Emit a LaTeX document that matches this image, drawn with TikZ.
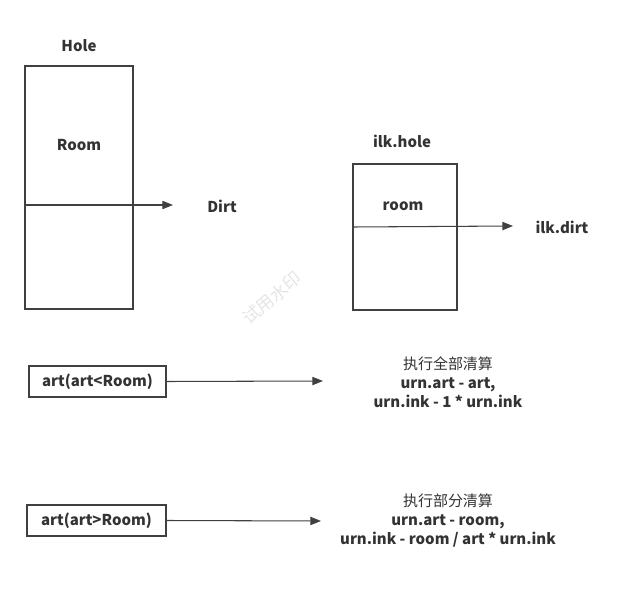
\documentclass[tikz,border=0pt]{standalone}
\usepackage{fontspec}
\setmainfont{Noto Sans CJK SC}
\usetikzlibrary{arrows.meta, positioning}

\begin{document}
\begin{tikzpicture}[
    x=0.03cm, y=-0.03cm,
    frame/.style={draw=black!75, line width=1.2pt},
    lbl/.style={font=\bfseries\fontsize{12.8}{16.2}\selectfont, text=black!80},
    arrow/.style={-{Triangle[length=9pt, width=7pt]}, line width=0.9pt, draw=black!75},
]
    \useasboundingbox (0,0) rectangle (637,592);

    % left hole
    \node[frame, minimum width=3.24cm, minimum height=7.29cm] (hole) at (79,187.5) {};
    \node[lbl] (holeTitle) at (79,46) {Hole};
    \node[lbl] (room) at (79,145) {Room};
    \coordinate (holeCut) at (25,205);
    \coordinate (dirtTip) at (173,205);
    \node[lbl] (dirt) at (222,206) {Dirt};
    \draw[arrow] (holeCut) -- (dirtTip);

    % right hole
    \node[frame, minimum width=3.12cm, minimum height=4.38cm] (ilkHole) at (405,237) {};
    \node[lbl] (ilkTitle) at (402,141) {ilk.hole};
    \node[lbl] (ilkRoom) at (403,206) {room};
    \coordinate (ilkCut) at (353,227);
    \coordinate (ilkTip) at (513,226);
    \node[lbl] (ilkDirt) at (562,227) {ilk.dirt};
    \draw[arrow] (ilkCut) -- (ilkTip);

    % art < room
    \node[frame, lbl, minimum width=4.11cm, minimum height=0.93cm] (less) at (97.5,381.5) {art(art<Room)};
    \coordinate (lessTip) at (323,381);
    \draw[arrow] (less.east) -- (lessTip);
    \node[lbl, align=center] (full) at (448,382.5) {%
        {\mdseries 执行全部清算}\\
        urn.art - art,\\
        urn.ink - 1 * urn.ink};

    % art > room
    \node[frame, lbl, minimum width=4.17cm, minimum height=0.93cm] (more) at (96.5,520.5) {art(art>Room)};
    \coordinate (moreTip) at (321,521);
    \draw[arrow] (more.east) -- (moreTip);
    \node[lbl, align=center] (part) at (448,521) {%
        {\mdseries 执行部分清算}\\
        urn.art - room,\\
        urn.ink - room / art * urn.ink};

    % watermark
    \node[font=\fontsize{15}{15}\selectfont, text=black!10, rotate=40] (mark) at (272,298) {试用水印};
\end{tikzpicture}
\end{document}
